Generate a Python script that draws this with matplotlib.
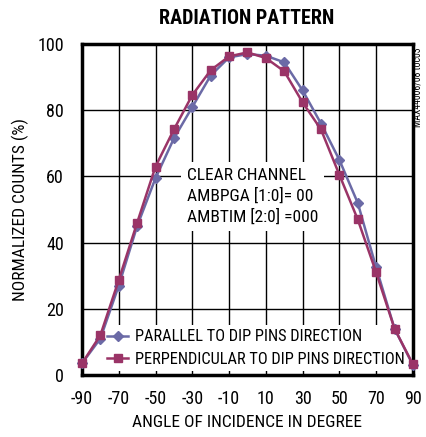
import matplotlib
matplotlib.use('Agg')
import matplotlib.pyplot as plt
from matplotlib import font_manager

names = set(f.name for f in font_manager.fontManager.ttflist)
cond = 'DejaVu Sans'
for c in ['Liberation Sans Narrow', 'Roboto Condensed', 'Archivo Narrow']:
    if c in names:
        cond = c
        break
plt.rcParams['font.family'] = [cond, 'DejaVu Sans']
plt.rcParams['axes.unicode_minus'] = False

angle = [-90, -80, -70, -60, -50, -40, -30, -20, -10, 0, 10, 20, 30, 40, 50, 60, 70, 80, 90]
parallel = [3.5, 11, 27, 45, 59.5, 71.5, 81, 90.5, 96, 97, 96.5, 94.5, 86, 76, 65, 52, 32.5, 14, 3]
perpendicular = [3.5, 12, 28.7, 46, 63, 74.2, 84.6, 92.1, 96.3, 97.5, 95.8, 91.8, 82.4, 74.2, 60.5, 47, 31, 14, 3.2]

xticks = [-90, -70, -50, -30, -10, 10, 30, 50, 70, 90]
yticks = [0, 20, 40, 60, 80, 100]

fig = plt.figure(figsize=(4.27, 4.37), dpi=100)
ax = fig.add_axes([0.192, 0.142, 0.775, 0.757])

ax.plot(angle, parallel, '-D', color='#6b6aa6', lw=1.8, ms=5, clip_on=False,
        label='PARALLEL TO DIP PINS DIRECTION', zorder=3)
ax.plot(angle, perpendicular, '-s', color='#9a3467', lw=1.8, ms=6, clip_on=False,
        label='PERPENDICULAR TO DIP PINS DIRECTION', zorder=3)

ax.set_xlim(-90, 90)
ax.set_ylim(0, 100)
ax.set_xticks(xticks)
ax.set_yticks(yticks)
ax.grid(True, color='black', lw=1.0)
ax.tick_params(direction='in', length=0, labelsize=13)
ax.tick_params(axis='x', pad=11)
ax.tick_params(axis='y', pad=13)
for s in ax.spines.values():
    s.set_linewidth(2.5)

ax.set_xlabel('ANGLE OF INCIDENCE IN DEGREE', fontsize=12.5, labelpad=5)
ax.set_ylabel('NORMALIZED COUNTS (%)', fontsize=12.5, labelpad=6)
fig.text(0.578, 0.958, 'RADIATION PATTERN', fontsize=14.5, fontweight='bold', ha='center', va='center')
fig.text(0.978, 0.80, 'MAX44006/08 toc03', fontsize=7, rotation=90, ha='center', va='center')

ax.text(-33, 54, 'CLEAR CHANNEL\nAMBPGA [1:0]= 00\nAMBTIM [2:0] =000', fontsize=12.5,
        linespacing=1.38, va='center', ha='left', zorder=2,
        bbox=dict(facecolor='white', edgecolor='none', pad=4))

leg = ax.legend(loc='lower right', bbox_to_anchor=(1.0, 0.0), frameon=True, fontsize=11.8,
                handlelength=1.3, handletextpad=0.4, borderaxespad=0.25, labelspacing=0.45,
                borderpad=0.25)
leg.get_frame().set_edgecolor('none')
leg.get_frame().set_facecolor('white')
leg.get_frame().set_alpha(1)
leg.set_zorder(2.5)

fig.savefig('out.png', dpi=100)
